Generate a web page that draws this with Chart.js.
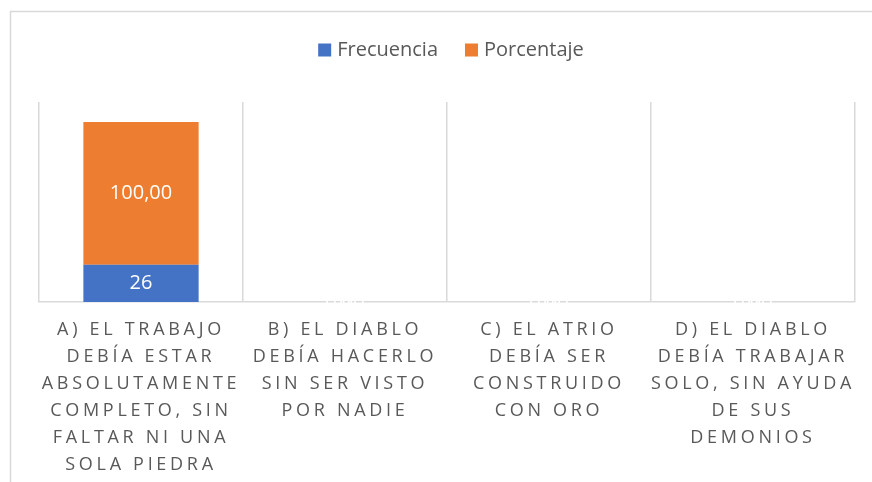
<!DOCTYPE html>
<html><head><meta charset="utf-8">
<script src="https://cdn.jsdelivr.net/npm/chart.js@4"></script>
<style>html,body{margin:0;padding:0;background:#fff;overflow:hidden}#wrap{width:872px;height:482px;position:relative}</style>
</head><body><div id="wrap"><canvas id="c"></canvas></div>
<script>
const categories = [
  ["A) EL TRABAJO","DEBÍA ESTAR","ABSOLUTAMENTE","COMPLETO, SIN","FALTAR NI UNA","SOLA PIEDRA"],
  ["B) EL DIABLO","DEBÍA HACERLO","SIN SER VISTO","POR NADIE"],
  ["C) EL ATRIO","DEBÍA SER","CONSTRUIDO","CON ORO"],
  ["D) EL DIABLO","DEBÍA TRABAJAR","SOLO, SIN AYUDA","DE SUS","DEMONIOS"]
];
const seriesNames = ["Frecuencia","Porcentaje"];
const frecuencia = [26, 0, 0, 0];
const porcentaje = [100, 0, 0, 0];
const yMax = 140;

const TEXT = '#595959', GRID = '#d9d9d9';
const BLUE = '#4472C4', ORANGE = '#ED7D31';

const framePlugin = {
  id: 'frame',
  beforeDraw(chart) {
    const ctx = chart.ctx;
    ctx.save();
    ctx.strokeStyle = GRID; ctx.lineWidth = 1.5;
    ctx.strokeRect(10.5, 11.5, 900, 500);
    ctx.restore();
  }
};

const labelsPlugin = {
  id: 'valueLabels',
  afterDatasetsDraw(chart) {
    const ctx = chart.ctx;
    ctx.save();
    ctx.font = '20px "Open Sans"';
    ctx.fillStyle = '#ffffff';
    ctx.textAlign = 'center'; ctx.textBaseline = 'middle';
    chart.data.datasets.forEach((ds, i) => {
      const meta = chart.getDatasetMeta(i);
      meta.data.forEach((el, j) => {
        const v = ds.data[j];
        const t = i === 0 ? String(v) : v.toFixed(2).replace('.', ',');
        const p = el.getCenterPoint();
        ctx.fillText(t, p.x, p.y);
      });
    });
    ctx.restore();
  }
};

const axisLabelsPlugin = {
  id: 'axisLabels',
  afterDraw(chart) {
    const ctx = chart.ctx, xs = chart.scales.x, ca = chart.chartArea;
    ctx.save();
    ctx.font = '18px "Open Sans"';
    ctx.letterSpacing = '3.7px';
    ctx.fillStyle = TEXT;
    ctx.textAlign = 'center'; ctx.textBaseline = 'middle';
    chart.data.labels.forEach((lines, i) => {
      const x = xs.getPixelForTick(i);
      lines.forEach((ln, k) => ctx.fillText(ln, x, ca.bottom + 28 + k * 27));
    });
    ctx.restore();
  }
};

const legendPlugin = {
  id: 'customLegend',
  afterDraw(chart) {
    const ctx = chart.ctx;
    ctx.save();
    ctx.font = '20px "Open Sans"';
    ctx.textBaseline = 'middle'; ctx.textAlign = 'left';
    const box = 13, gap = 6, itemGap = 27;
    const items = chart.data.datasets.map(d => ({t: d.label, c: d.backgroundColor, w: ctx.measureText(d.label).width}));
    let total = items.reduce((s, it) => s + box + gap + it.w, 0) + itemGap * (items.length - 1);
    let x = 451 - total / 2;
    const y = 50;
    items.forEach(it => {
      ctx.fillStyle = it.c;
      ctx.fillRect(x, y - box / 2, box, box);
      x += box + gap;
      ctx.fillStyle = TEXT;
      ctx.fillText(it.t, x, y);
      x += it.w + itemGap;
    });
    ctx.restore();
  }
};

new Chart(document.getElementById('c'), {
  type: 'bar',
  data: {
    labels: categories,
    datasets: [
      { label: seriesNames[0], data: frecuencia, backgroundColor: BLUE },
      { label: seriesNames[1], data: porcentaje, backgroundColor: ORANGE }
    ]
  },
  options: {
    responsive: true, maintainAspectRatio: false, animation: false,
    devicePixelRatio: 1,
    layout: { padding: { top: 102, left: 39, right: 17, bottom: 180 } },
    datasets: { bar: { barPercentage: 0.565, categoryPercentage: 1 } },
    plugins: { legend: { display: false }, tooltip: { enabled: false } },
    scales: {
      x: {
        stacked: true,
        grid: { offset: true, color: GRID, lineWidth: 1.5, drawTicks: false },
        border: { color: GRID, width: 1.5 },
        ticks: { display: false }
      },
      y: {
        stacked: true, display: false, min: 0, max: yMax
      }
    }
  },
  plugins: [framePlugin, labelsPlugin, axisLabelsPlugin, legendPlugin]
});
</script>
</body></html>
